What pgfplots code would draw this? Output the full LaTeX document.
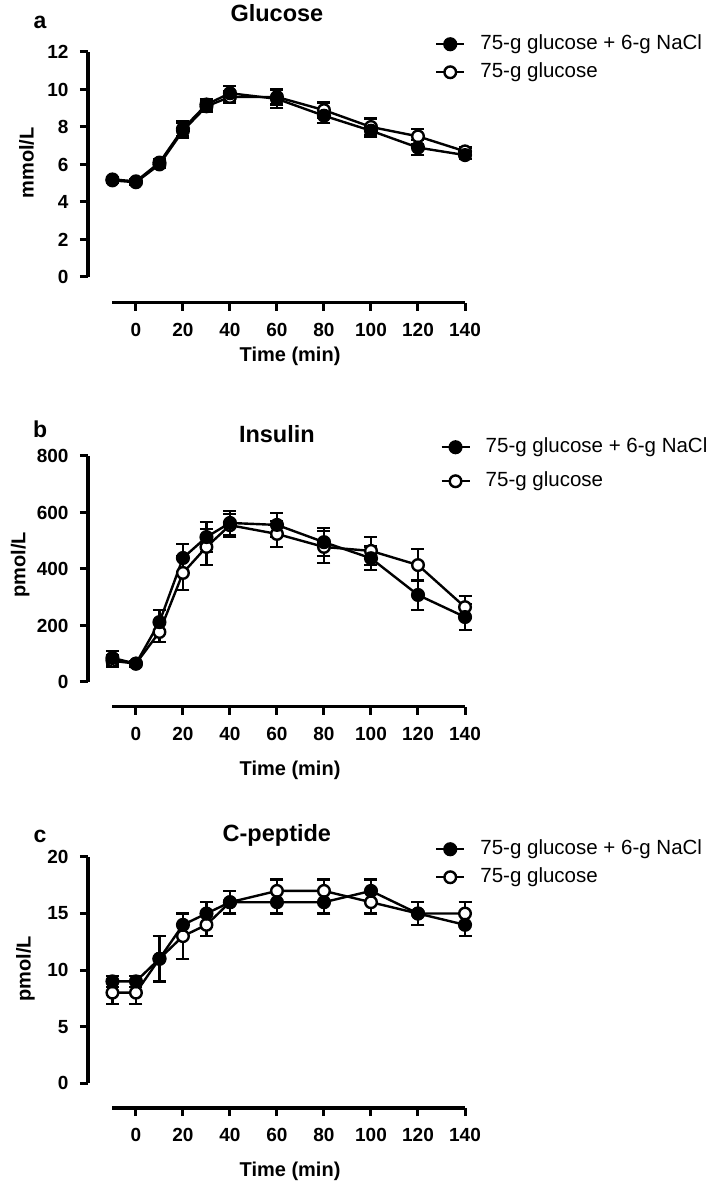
\documentclass[border=0pt]{standalone}
\usepackage{fontspec}
\setmainfont{Liberation Sans}
\usepackage{pgfplots}
\pgfplotsset{compat=1.18}
\usepackage{pgfplotstable}

\newcommand\tickfont{\fontsize{19bp}{20bp}\selectfont\bfseries}
\newcommand\labfont{\fontsize{20bp}{22bp}\selectfont\bfseries}
\newcommand\titfont{\fontsize{23.5bp}{26bp}\selectfont\bfseries}
\newcommand\legfont{\fontsize{20.5bp}{23bp}\selectfont}
\newcommand\letfont{\fontsize{23bp}{26bp}\selectfont\bfseries}

% t  filled  err  open  err
\pgfplotstableread{
t f fe o oe
-10 5.2 0.12 5.15 0.12
0 5.1 0.12 5.05 0.12
10 6.1 0.2 6.0 0.2
20 7.9 0.4 7.8 0.4
30 9.2 0.3 9.1 0.3
40 9.8 0.4 9.6 0.3
60 9.5 0.5 9.6 0.4
80 8.6 0.4 8.9 0.4
100 7.8 0.3 8.0 0.45
120 6.9 0.4 7.5 0.4
140 6.5 0.2 6.7 0.2
}\glu

\pgfplotstableread{
t f fe o oe
-10 85 25 75 20
0 65 10 65 10
10 212 43 177 35
20 439 49 386 60
30 513 53 478 64
40 563 42 555 40
60 556 42 524 46
80 495 50 478 57
100 438 42 464 49
120 308 53 414 57
140 230 46 265 39
}\ins

\pgfplotstableread{
t f fe o oe
-10 9 0.5 8 1
0 9 0.5 8 1
10 11 2 11 2
20 14 1 13 2
30 15 1 14 1
40 16 1 16 1
60 16 1 17 1
80 16 1 17 1
100 17 1 16 1
120 15 1 15 1
140 14 1 15 1
}\cpep

\pgfplotsset{
  panel/.style={
    scale only axis, width=377bp, height=251bp,
    xmin=-20.4, xmax=140,
    axis lines*=left, axis line style={draw=none},
    xtick={0,20,...,140},
    tick align=outside, major tick length=8bp,
    tick style={line width=3bp, black},
    ticklabel style={font=\tickfont},
    yticklabel style={xshift=-8bp},
    xticklabel style={yshift=-9bp},
    /pgf/number format/assume math mode=true,
    clip=false,
    title style={anchor=base, font=\titfont, yshift=-6pt},
    x label style={at={(axis description cs:0.536,-0.272)}, anchor=base, font=\labfont},
    y label style={anchor=center, font=\labfont},
    xlabel={Time (min)},
    reverse legend,
    legend cell align=left,
    legend style={draw=none, fill=none, inner sep=0pt, anchor=north west,
      font=\legfont,
      nodes={inner sep=0pt, text height=15bp, text depth=4.5bp},
      /tikz/every odd column/.append style={column sep=15bp}},
    legend image code/.code={
      \draw[mark repeat=2,mark phase=2,##1] plot coordinates {(0bp,0bp) (14bp,0bp) (28bp,0bp)};},
  },
  fser/.style={black, line width=2.4bp, mark=*, mark size=6.3bp,
    mark options={fill=black, draw=black, line width=1.5bp, solid},
    error bars/.cd, y dir=both, y explicit,
    error bar style={line width=2.4bp, black, solid},
    error mark options={rotate=90, mark size=6.5bp, line width=2.4bp, black}},
  oser/.style={black, line width=2.4bp, mark=*, mark size=5.8bp,
    mark options={fill=white, draw=black, line width=2.4bp, solid},
    error bars/.cd, y dir=both, y explicit,
    error bar style={line width=2.4bp, black, solid},
    error mark options={rotate=90, mark size=6.5bp, line width=2.4bp, black}},
}

\begin{document}
\begin{tikzpicture}
\path[use as bounding box] (0,0) rectangle (709bp,1183bp);

% ---------- a: Glucose ----------
\begin{axis}[panel, at={(88bp,880bp)}, anchor=south west,
  ymin=-1.39, ymax=12, ytick={0,2,...,12},
  title={Glucose}, title style={at={(axis description cs:0.501,1.121)}},
  x label style={at={(axis description cs:0.536,-0.233)}},
  ylabel={mmol/L}, y label style={at={(axis description cs:-0.163,0.558)}},
  legend style={at={(axis description cs:0.920,1.0705)}, /tikz/row sep=8.5bp},
]
\draw[line width=3bp] (axis cs:-20.4,0) -- (axis cs:-20.4,12);
\draw[line width=3bp] (axis cs:-10,-1.39) -- (axis cs:140,-1.39);
\addplot+[oser] table[x=t, y=o, y error=oe] {\glu};
\addlegendentry{75-g glucose}
\addplot+[fser] table[x=t, y=f, y error=fe] {\glu};
\addlegendentry{75-g glucose + 6-g NaCl}
\node[anchor=base, font=\letfont] at (rel axis cs:-0.127,1.095) {a};
\end{axis}

% ---------- b: Insulin ----------
\begin{axis}[panel, at={(88bp,476bp)}, anchor=south west,
  ymin=-88.5, ymax=800, ytick={0,200,...,800},
  title={Insulin}, title style={at={(axis description cs:0.501,1.053)}},
  ylabel={pmol/L}, y label style={at={(axis description cs:-0.180,0.566)}},
  legend style={at={(axis description cs:0.934,1.0745)}, /tikz/row sep=14.5bp},
]
\draw[line width=3bp] (axis cs:-20.4,0) -- (axis cs:-20.4,800);
\draw[line width=3bp] (axis cs:-10,-88.5) -- (axis cs:140,-88.5);
\addplot+[oser] table[x=t, y=o, y error=oe] {\ins};
\addlegendentry{75-g glucose}
\addplot+[fser] table[x=t, y=f, y error=fe] {\ins};
\addlegendentry{75-g glucose + 6-g NaCl}
\node[anchor=base, font=\letfont] at (rel axis cs:-0.127,1.074) {b};
\end{axis}

% ---------- c: C-peptide ----------
\begin{axis}[panel, at={(88bp,75bp)}, anchor=south west,
  ymin=-2.2, ymax=20, ytick={0,5,...,20},
  title={C-peptide}, title style={at={(axis description cs:0.501,1.061)}},
  ylabel={pmol/L}, y label style={at={(axis description cs:-0.166,0.554)}},
  legend style={at={(axis description cs:0.920,1.0705)}, /tikz/row sep=8.5bp},
]
\draw[line width=3bp] (axis cs:-20.4,0) -- (axis cs:-20.4,20);
\draw[line width=3bp] (axis cs:-10,-2.2) -- (axis cs:140,-2.2);
\addplot+[oser] table[x=t, y=o, y error=oe] {\cpep};
\addlegendentry{75-g glucose}
\addplot+[fser] table[x=t, y=f, y error=fe] {\cpep};
\addlegendentry{75-g glucose + 6-g NaCl}
\node[anchor=base, font=\letfont] at (rel axis cs:-0.127,1.058) {c};
\end{axis}
\end{tikzpicture}
\end{document}
